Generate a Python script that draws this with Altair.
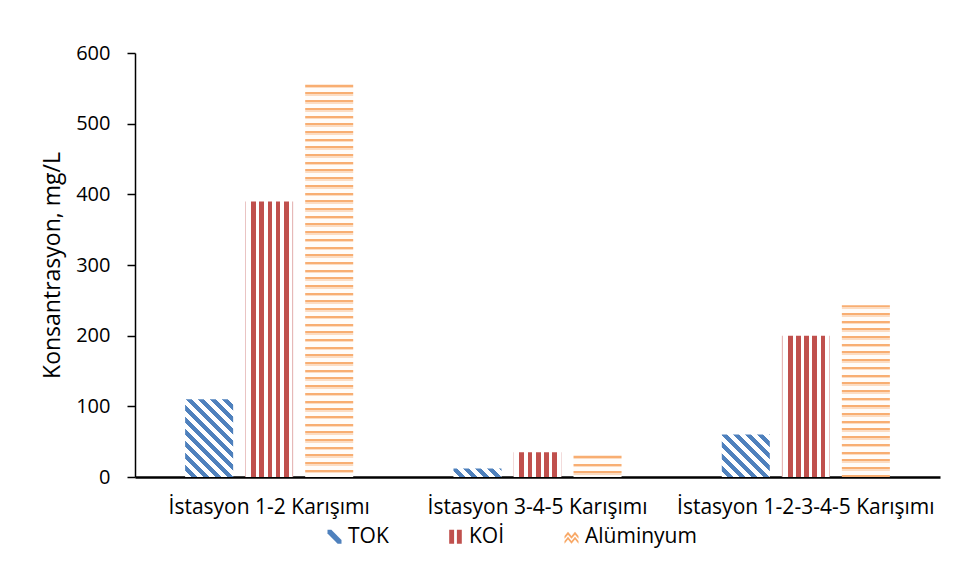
import altair as alt
import pandas as pd

# ---- data ----
categories = ["İstasyon 1-2 Karışımı", "İstasyon 3-4-5 Karışımı", "İstasyon 1-2-3-4-5 Karışımı"]
series = ["TOK", "KOİ", "Alüminyum"]
tok = [110, 12, 60]
koi = [390, 35, 200]
alu = [555, 30, 243]
y_ticks = [0, 100, 200, 300, 400, 500, 600]

values = {"TOK": tok, "KOİ": koi, "Alüminyum": alu}
rows = []
for s in series:
    for c, v in zip(categories, values[s]):
        rows.append({"Kategori": c, "Seri": s, "Deger": v})
df = pd.DataFrame(rows)

# ---- layout / style ----
FONT = "Open Sans"
FS = 21
PLOT_W, PLOT_H = 805, 424
Y_MAX = 600
BAR_W = 48
BLUE, RED, ORANGE = "#4F81BD", "#C0504D", "#F79646"


def hard_stops(segments):
    """segments: list of (start, end, color) in 0..1"""
    out = []
    for a, b, col in segments:
        a = max(0.0, min(1.0, a))
        b = max(0.0, min(1.0, b))
        if b <= a:
            continue
        out.append({"offset": round(a, 5), "color": col})
        out.append({"offset": round(b, 5), "color": col})
    return out


def tok_fill(v):
    h = max(v * PLOT_H / Y_MAX, 1.0)
    w = BAR_W
    total = w + h
    k = (w + h) / (w * w + h * h)
    P = 12.0
    segs = []
    j = 0
    while j * P < total:
        s0 = j * P / total
        segs.append((s0, s0 + 0.5 * P / total, "#FFFFFF"))
        segs.append((s0 + 0.5 * P / total, s0 + P / total, BLUE))
        j += 1
    return {"gradient": "linear", "x1": 0, "y1": 1, "x2": k * w, "y2": 1 - k * h,
            "stops": hard_stops(segs)}


def koi_fill(v):
    W = float(BAR_W)
    segs = [(0, 0.8 / W, "#E6B9B8"), (0.8 / W, 6 / W, "#FFFFFF")]
    x = 6.0
    while x + 4.7 <= W - 2:
        segs.append((x / W, (x + 4.7) / W, RED))
        segs.append(((x + 4.7) / W, (x + 8.2) / W, "#FFFFFF"))
        x += 8.2
    segs.append((x / W, (W - 0.8) / W, "#FFFFFF"))
    segs.append(((W - 0.8) / W, 1.0, "#E6B9B8"))
    return {"gradient": "linear", "x1": 0, "y1": 0, "x2": 1, "y2": 0,
            "stops": hard_stops(segs)}


def alu_fill(v):
    h = max(v * PLOT_H / Y_MAX, 1.0)
    P = 7.7
    segs = []
    y = 0.0
    while y < h:
        segs.append((y / h, (y + 2.0) / h, "#F8AE72"))
        segs.append(((y + 2.0) / h, (y + 3.6) / h, "#FCDCC2"))
        segs.append(((y + 3.6) / h, (y + P) / h, "#FFFCF9"))
        y += P
    return {"gradient": "linear", "x1": 0, "y1": 0, "x2": 0, "y2": 1,
            "stops": hard_stops(segs)}


fillers = {"TOK": tok_fill, "KOİ": koi_fill, "Alüminyum": alu_fill}

x_enc = alt.X("Kategori:N", sort=categories, title=None,
              scale=alt.Scale(domain=categories, paddingInner=0, paddingOuter=0),
              axis=alt.Axis(labelAngle=0, ticks=False, domainColor="#000000",
                            domainWidth=2.5, labelPadding=19, labelLimit=0,
                            labelFontSize=FS))
xo_enc = alt.XOffset("Seri:N", sort=series,
                     scale=alt.Scale(domain=series, paddingInner=0.2, paddingOuter=0.835))
y_enc = alt.Y("Deger:Q", title="Konsantrasyon, mg/L",
              scale=alt.Scale(domain=[0, Y_MAX], nice=False),
              axis=alt.Axis(values=y_ticks, grid=False, domainColor="#000000",
                            domainWidth=1.5, tickColor="#000000", tickWidth=1.5,
                            tickSize=8, labelPadding=17, titlePadding=11,
                            labelFontSize=20))

layers = []
for s in series:
    for c, v in zip(categories, values[s]):
        layers.append(
            alt.Chart()
            .mark_bar(fill=fillers[s](v), stroke="transparent", strokeWidth=0)
            .encode(x=x_enc, xOffset=xo_enc, y=y_enc)
            .transform_filter(alt.FieldEqualPredicate(field="Seri", equal=s))
            .transform_filter(alt.FieldEqualPredicate(field="Kategori", equal=c))
        )

legend_paths = [
    "M-1,-1L-0.45,-1L1,0.45L1,1L0.45,1L-1,-0.45Z",
    "M-0.9,-1H-0.2V1H-0.9Z M0.2,-1H0.9V1H0.2Z",
    "M-1,-0.1L-0.5,-0.7L0,-0.1L0.5,-0.7L1,-0.1L1,0.3L0.5,-0.3L0,0.3L-0.5,-0.3L-1,0.3Z "
    "M-1,0.6L-0.5,0L0,0.6L0.5,0L1,0.6L1,1L0.5,0.4L0,1L-0.5,0.4L-1,1Z",
]
leg = alt.Legend(title=None, orient="none", legendX=189, legendY=473,
                 direction="horizontal", columnPadding=56, symbolSize=196,
                 symbolOpacity=1, symbolStrokeWidth=0, labelFont=FONT,
                 labelFontSize=FS, labelColor="#000000", labelOffset=3, padding=0,
                 labelLimit=0)

legend_layer = (
    alt.Chart()
    .mark_point(filled=True, opacity=0)
    .encode(
        x=x_enc, xOffset=xo_enc, y=y_enc,
        color=alt.Color("Seri:N", sort=series,
                        scale=alt.Scale(domain=series, range=[BLUE, RED, "#F8A968"]),
                        legend=leg),
        shape=alt.Shape("Seri:N", sort=series,
                        scale=alt.Scale(domain=series, range=legend_paths),
                        legend=leg),
    )
)

chart = (
    alt.layer(*layers, legend_layer, data=df)
    .properties(width=PLOT_W, height=PLOT_H,
                autosize=alt.AutoSizeParams(type="none"),
                padding={"left": 127, "top": 45, "right": 12, "bottom": 96},
                background="#FFFFFF")
    .configure_view(stroke=None)
    .configure_axis(labelFont=FONT, labelColor="#000000",
                    titleFont=FONT, titleFontSize=23, titleColor="#000000",
                    titleFontWeight="normal")
)

chart.save("out.html", embed_options={"renderer": "svg", "actions": False})
